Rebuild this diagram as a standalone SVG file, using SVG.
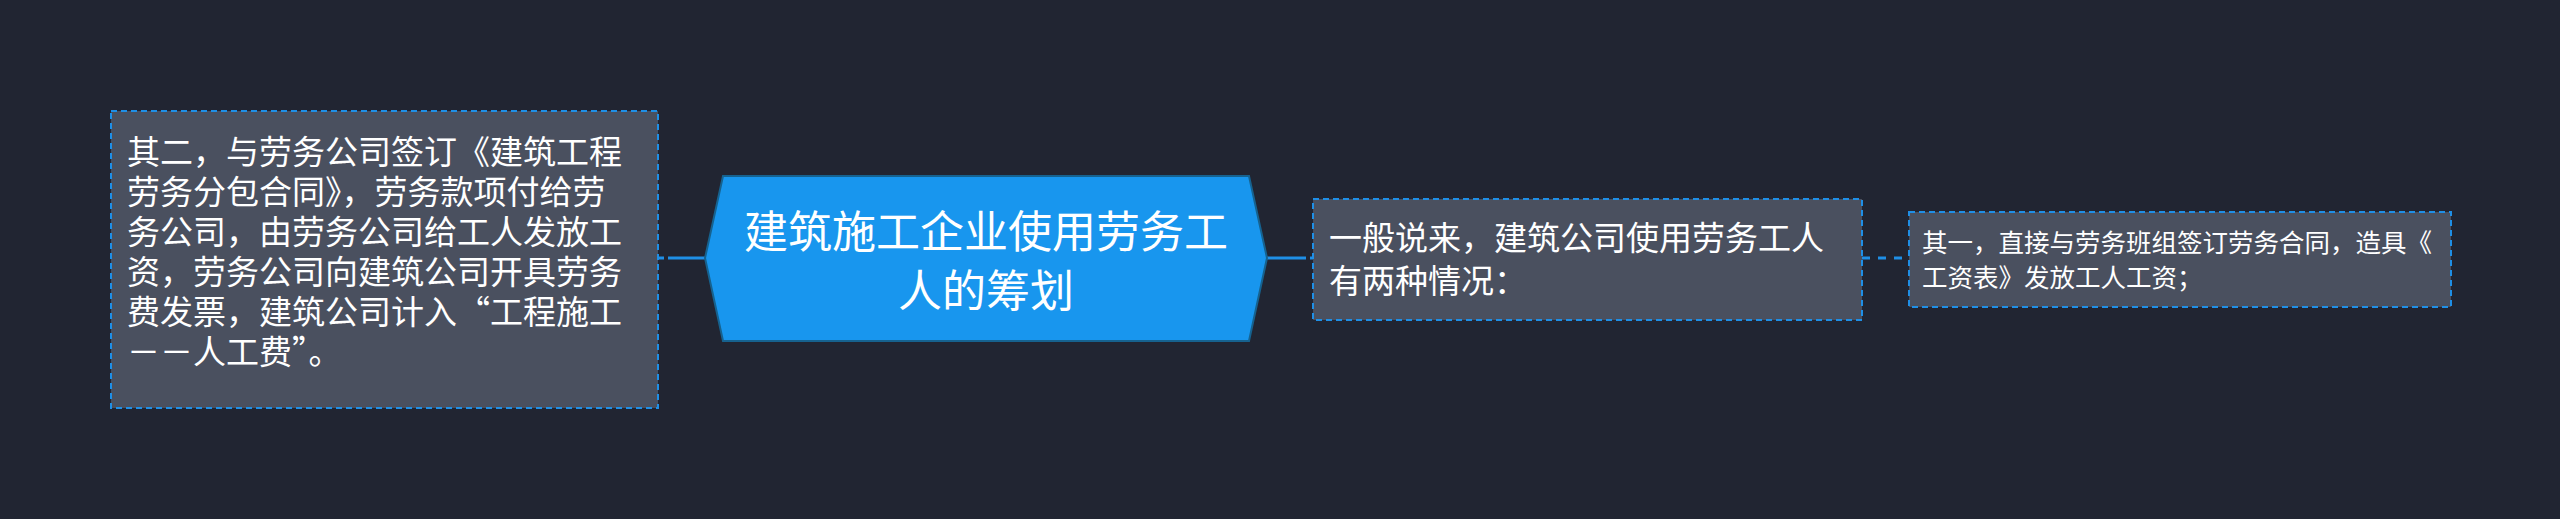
<svg xmlns="http://www.w3.org/2000/svg" width="2560" height="519" viewBox="0 0 2560 519">
<style>
.box{fill:#4a505f;stroke:#1f8fe6;stroke-width:2;stroke-dasharray:6 4}
.t{font-family:"Noto Sans CJK SC",sans-serif;fill:#ffffff}
.c{stroke:#1f8fe6;stroke-width:3;fill:none}
</style>
<rect width="2560" height="519" fill="#212532"/>
<g id="connectors">
<path class="c" d="M658 258 H672" stroke-dasharray="6 4"/>
<path class="c" d="M672 258 H705"/>
<path class="c" d="M1267 258 H1300"/>
<path class="c" d="M1300 258 H1313" stroke-dasharray="6 4"/>
<path class="c" d="M1862 258 H1909" stroke-dasharray="8 8"/>
</g>
<g id="left">
<rect class="box" x="111" y="111" width="547" height="297"/>
<text class="t" font-size="33"><tspan x="127" y="164">其二，与劳务公司签订《建筑工程</tspan><tspan x="127" y="204">劳务分包合同》，劳务款项付给劳</tspan><tspan x="127" y="244">务公司，由劳务公司给工人发放工</tspan><tspan x="127" y="284">资，劳务公司向建筑公司开具劳务</tspan><tspan x="127" y="324">费发票，建筑公司计入“工程施工</tspan><tspan x="127" y="364">－－人工费”。</tspan></text>
</g>
<g id="center">
<polygon points="723,176 1249,176 1267,258 1249,341 723,341 705,258" fill="#1896ee" stroke="#16628f" stroke-width="2"/>
<text class="t" font-size="44" text-anchor="middle"><tspan x="986" y="248">建筑施工企业使用劳务工</tspan><tspan x="986" y="307">人的筹划</tspan></text>
</g>
<g id="middle">
<rect class="box" x="1313" y="199" width="549" height="121"/>
<text class="t" font-size="33"><tspan x="1329" y="250">一般说来，建筑公司使用劳务工人</tspan><tspan x="1329" y="293">有两种情况：</tspan></text>
</g>
<g id="right">
<rect class="box" x="1909" y="212" width="542" height="95"/>
<text class="t" font-size="25.5"><tspan x="1922" y="252">其一，直接与劳务班组签订劳务合同，造具《</tspan><tspan x="1922" y="287">工资表》发放工人工资；</tspan></text>
</g>
</svg>
